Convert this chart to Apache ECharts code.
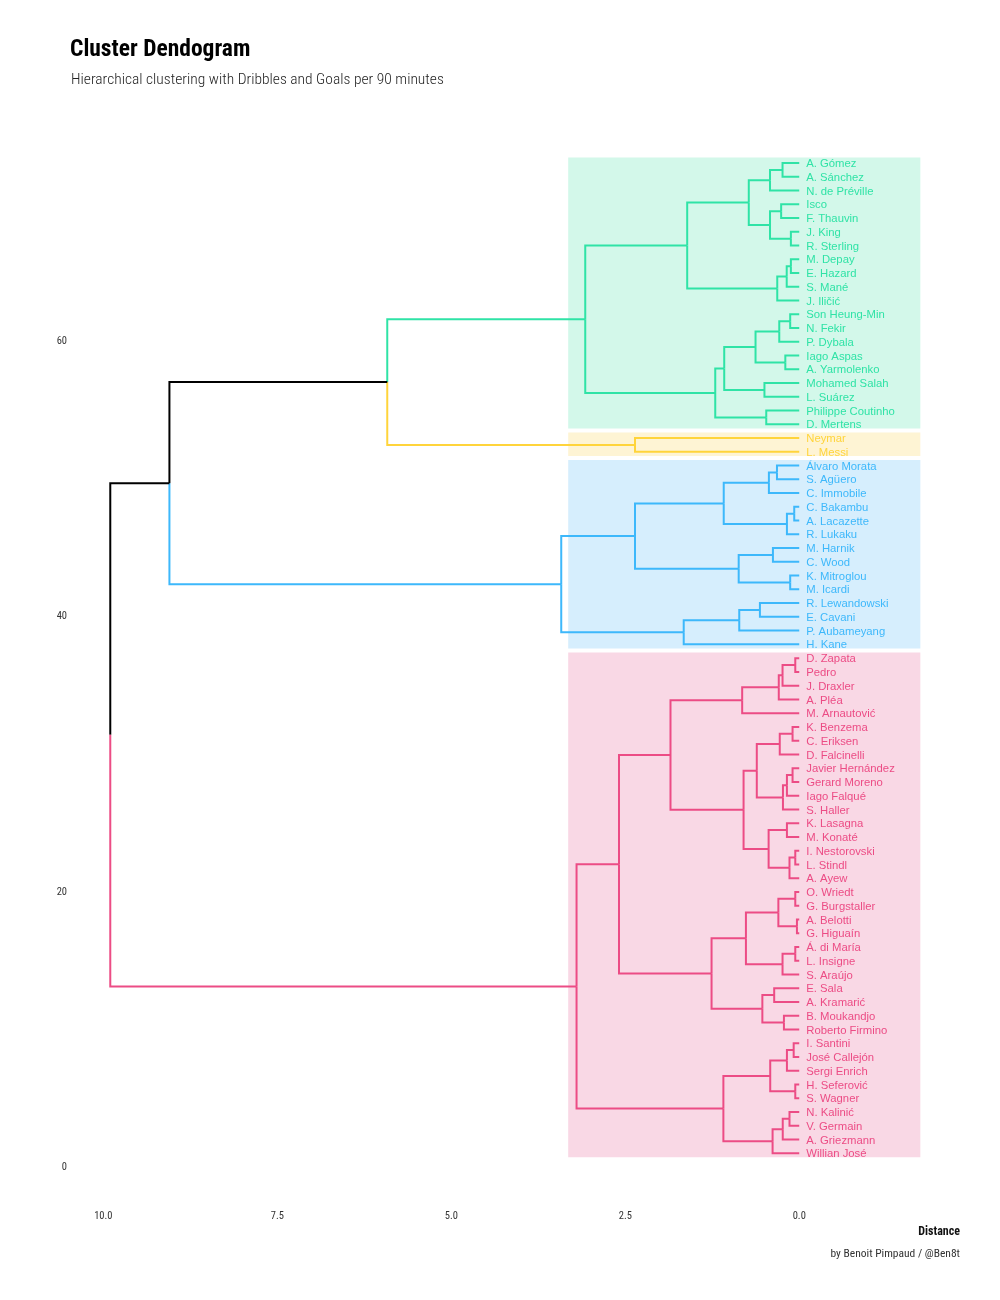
<!DOCTYPE html>
<html><head><meta charset="utf-8">
<script src="https://cdn.jsdelivr.net/npm/echarts@6/dist/echarts.min.js"></script>
<style>html,body{margin:0;padding:0;background:#fff}#chart{width:1000px;height:1300px}</style>
</head><body><div id="chart"></div>
<script>
// ---- data: clusters as nested [left, right, mergeHeight] (leaves listed top to bottom) ----
const greenTree = [
  [ [ [ ['A. Gómez','A. Sánchez',0.24], 'N. de Préville', 0.42 ],
      [ ['Isco','F. Thauvin',0.26], ['J. King','R. Sterling',0.12], 0.42 ], 0.725 ],
    [ [ ['M. Depay','E. Hazard',0.12], 'S. Mané', 0.18 ], 'J. Iličić', 0.316 ], 1.61 ],
  [ [ [ [ ['Son Heung-Min','N. Fekir',0.13], 'P. Dybala', 0.287 ], ['Iago Aspas','A. Yarmolenko',0.20], 0.628 ],
      ['Mohamed Salah','L. Suárez',0.50], 1.078 ],
    ['Philippe Coutinho','D. Mertens',0.474], 1.207 ],
  3.075 ];
const yellowTree = ['Neymar','L. Messi',2.36];
const blueTree = [
  [ [ [ ['Álvaro Morata','S. Agüero',0.32], 'C. Immobile', 0.436 ],
      [ ['C. Bakambu','A. Lacazette',0.072], 'R. Lukaku', 0.177 ], 1.085 ],
    [ ['M. Harnik','C. Wood',0.378], ['K. Mitroglou','M. Icardi',0.13], 0.87 ], 2.36 ],
  [ [ ['R. Lewandowski','E. Cavani',0.565], 'P. Aubameyang', 0.862 ], 'H. Kane', 1.66 ],
  3.42 ];
const pinkTree = [
  [ [ [ [ [ ['D. Zapata','Pedro',0.057], 'J. Draxler', 0.24 ], 'A. Pléa', 0.294 ], 'M. Arnautović', 0.82 ],
      [ [ [ ['K. Benzema','C. Eriksen',0.096], 'D. Falcinelli', 0.28 ],
          [ [ ['Javier Hernández','Gerard Moreno',0.096], 'Iago Falqué', 0.177 ], 'S. Haller', 0.234 ], 0.61 ],
        [ ['K. Lasagna','M. Konaté',0.177], [ ['I. Nestorovski','L. Stindl',0.057], 'A. Ayew', 0.14 ], 0.44 ], 0.80 ], 1.85 ],
    [ [ [ ['O. Wriedt','G. Burgstaller',0.057], ['A. Belotti','G. Higuaín',0.033], 0.30 ],
        [ ['Á. di María','L. Insigne',0.057], 'S. Araújo', 0.24 ], 0.766 ],
      [ ['E. Sala','A. Kramarić',0.36], ['B. Moukandjo','Roberto Firmino',0.22], 0.53 ], 1.26 ], 2.59 ],
  [ [ [ ['I. Santini','José Callejón',0.08], 'Sergi Enrich', 0.177 ], ['H. Seferović','S. Wagner',0.057], 0.417 ],
    [ [ ['N. Kalinić','V. Germain',0.14], 'A. Griezmann', 0.237 ], 'Willian José', 0.383 ], 1.09 ],
  3.2 ];
const upperJoinHeights = [5.92, 9.05, 9.9]; // green+yellow, (+blue), (+pink)
const clusterColors = ['#2fe3a6','#ffd43b','#3db8fb','#ec4c85'];
const clusterFills  = ['#d3f8ea','#fef4d4','#d6eefd','#f9d8e5'];
const xTickValues = [0, 2.5, 5, 7.5, 10];
const yTickValues = [0, 20, 40, 60];

// ---- layout ----
function countLeaves(n){ return typeof n === 'string' ? 1 : countLeaves(n[0]) + countLeaves(n[1]); }
const trees = [greenTree, yellowTree, blueTree, pinkTree];
let nextPos = trees.reduce((s,t)=>s+countLeaves(t),0);
const segData = [], leafData = [], rectData = [];
function join(a, b, h, color){
  const pos = (a.pos + b.pos) / 2;
  [a,b].forEach(c => segData.push({value:[h,pos,h,c.pos,c.h,c.pos], itemStyle:{color:c.color}}));
  return {pos, h, color};
}
function layout(node, color){
  if (typeof node === 'string'){
    const p = nextPos--;
    leafData.push({value:[0,p], name:node, itemStyle:{color}});
    return {pos:p, h:0, color, lo:p, hi:p};
  }
  const a = layout(node[0], color), b = layout(node[1], color);
  const r = join(a, b, node[2], color);
  r.lo = Math.min(a.lo,b.lo); r.hi = Math.max(a.hi,b.hi);
  return r;
}
const cl = trees.map((t,i)=>{
  const r = layout(t, clusterColors[i]);
  rectData.push({value:[3.32, r.lo-0.3, -1.74, r.hi+0.4], itemStyle:{color:clusterFills[i]}});
  return r;
});
const gy = join(cl[0], cl[1], upperJoinHeights[0], '#000');
const gyb = join(gy, cl[2], upperJoinHeights[1], '#000');
join(gyb, cl[3], upperJoinHeights[2], '#000');

const condensed = "'Roboto Condensed', 'Liberation Sans Narrow', Roboto, sans-serif";
const chart = echarts.init(document.getElementById('chart'));
chart.setOption({
  animation:false,
  backgroundColor:'#fff',
  title:[
    {text:'Cluster Dendogram', left:70, top:38, padding:0, textStyle:{fontFamily:condensed, fontWeight:'bold', fontSize:23.5, color:'#000'}},
    {text:'Hierarchical clustering with Dribbles and Goals per 90 minutes', left:71, top:72, padding:0, textStyle:{fontFamily:condensed, fontWeight:300, fontSize:15.5, color:'#222'}}
  ],
  graphic:[
    {type:'text', right:40, top:1226, style:{text:'Distance', font:"bold 12px "+condensed, fill:'#111'}},
    {type:'text', right:40, top:1248, style:{text:'by Benoit Pimpaud / @Ben8t', font:"11.5px "+condensed, fill:'#333'}}
  ],
  grid:{left:72, right:40, top:121.75, bottom:105.5, containLabel:false},
  xAxis:{type:'value', inverse:true, min:-2.31, max:10.45,
    axisLine:{show:false}, axisTick:{show:false}, splitLine:{show:false},
    axisLabel:{customValues:xTickValues, margin:16, fontFamily:condensed, fontSize:10.5, color:'#333', formatter:v=>v.toFixed(1)}},
  yAxis:{type:'value', min:-2, max:76,
    axisLine:{show:false}, axisTick:{show:false}, splitLine:{show:false},
    axisLabel:{customValues:yTickValues, margin:5, padding:[7,0,0,0], fontFamily:condensed, fontSize:10.5, color:'#333'}},
  series:[
    {type:'custom', silent:true, data:rectData, encode:{x:[0,2], y:[1,3]},
      renderItem:(params, api)=>{
        const p1 = api.coord([api.value(0), api.value(1)]);
        const p2 = api.coord([api.value(2), api.value(3)]);
        return {type:'rect', shape:{x:p1[0], y:p2[1], width:p2[0]-p1[0], height:p1[1]-p2[1]}, style:{fill:api.visual('color')}};
      }},
    {type:'custom', silent:true, data:segData, encode:{x:[0,2,4], y:[1,3,5]},
      renderItem:(params, api)=>{
        const pts = [api.coord([api.value(0),api.value(1)]), api.coord([api.value(2),api.value(3)]), api.coord([api.value(4),api.value(5)])];
        return {type:'polyline', shape:{points:pts}, style:{stroke:api.visual('color'), lineWidth:2, fill:null}};
      }},
    {type:'custom', silent:true, data:leafData, encode:{x:0, y:1},
      renderItem:(params, api)=>{
        const p = api.coord([api.value(0), api.value(1)]);
        return {type:'text', x:p[0]+7, y:p[1]+1, style:{text:leafData[params.dataIndex].name, fill:api.visual('color'), font:"11.3px 'Liberation Sans', Arial, sans-serif", verticalAlign:'middle', align:'left'}};
      }}
  ]
});
</script></body></html>
